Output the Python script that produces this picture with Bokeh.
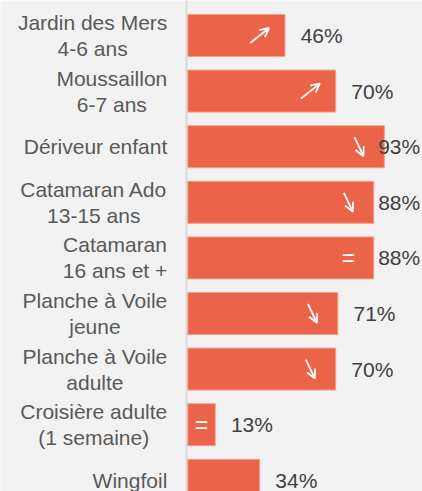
from bokeh.plotting import figure
from bokeh.models import Range1d, Span, ColumnDataSource, Arrow, OpenHead
from bokeh.core.properties import value
from bokeh.embed import file_html
from bokeh.resources import INLINE

# ---- data ----
categories = [
    "Jardin des Mers\n4-6 ans",
    "Moussaillon\n6-7 ans",
    "Dériveur enfant",
    "Catamaran Ado\n13-15 ans",
    "Catamaran\n16 ans et +",
    "Planche à Voile\njeune",
    "Planche à Voile\nadulte",
    "Croisière adulte\n(1 semaine)",
    "Wingfoil",
]
values = [46, 70, 93, 88, 88, 71, 70, 13, 34]
trends = ["up", "up", "down", "down", "eq", "down", "down", "eq", ""]

# ---- layout constants ----
W, H = 422, 491
AXIS_PX = 187.3        # x position of the bar baseline inside the figure
PX_X = 2.113           # pixels per percent
ROW_PX = 55.6          # pixels between bar centres
FIRST_ROW_PX = 35.0    # centre of first bar from the top
BAR_PX = 42.0
FONT = "Liberation Sans"
FS = "21px"
BAR_COLOR = "#EB6449"
BG = "#F2F2F2"

px_y = ROW_PX  # pixels per row unit

p = figure(width=W, height=H, output_backend="svg", toolbar_location=None,
           x_range=Range1d(-AXIS_PX / PX_X, (W - AXIS_PX) / PX_X),
           y_range=Range1d((H - FIRST_ROW_PX) / px_y, -FIRST_ROW_PX / px_y),
           min_border=0, min_border_left=0, min_border_right=0,
           min_border_top=0, min_border_bottom=0)
p.axis.visible = False
p.grid.visible = False
p.outline_line_color = None
p.background_fill_color = BG
p.border_fill_color = BG

idx = list(range(len(categories)))

# baseline
p.add_layout(Span(location=-1.3 / PX_X, dimension="height", line_color="#D9D9D9",
                  line_width=2, level="underlay"))

# bars
src = ColumnDataSource(dict(y=idx, v=values))
p.hbar(y="y", left=0, right="v", height=BAR_PX / ROW_PX, source=src,
       fill_color=BAR_COLOR, line_color="#F3A090", line_width=1)

# category labels
p.text(x=[-20.5 / PX_X] * len(idx), y=idx, text=categories,
       anchor="center_right", text_align="center", text_baseline="middle",
       text_font=value(FONT), text_font_size=FS, text_color="#595959",
       text_line_height=1.13)

# value labels
lab_x = [min(v + 7.4, 90.1) for v in values]
p.text(x=lab_x, y=idx, text=[f"{v}%" for v in values],
       text_align="left", text_baseline="middle",
       text_font=value(FONT), text_font_size=FS, text_color="#404040")

# trend markers
def cx(v):
    return max(v - 12.0, v / 2.0)

ups = [(cx(v), i) for i, (v, t) in enumerate(zip(values, trends)) if t == "up"]
downs = [(cx(v), i) for i, (v, t) in enumerate(zip(values, trends)) if t == "down"]
eqs = [(cx(v), i) for i, (v, t) in enumerate(zip(values, trends)) if t == "eq"]

hx_up, hy_up = 9.5 / PX_X, 7.5 / px_y
hx_dn, hy_dn = 4.5 / PX_X, 9.5 / px_y

arrow_src = ColumnDataSource(dict(
    xs=[x - hx_up for x, _ in ups] + [x - hx_dn for x, _ in downs],
    ys=[y + hy_up for _, y in ups] + [y - hy_dn for _, y in downs],
    xe=[x + hx_up for x, _ in ups] + [x + hx_dn for x, _ in downs],
    ye=[y - hy_up for _, y in ups] + [y + hy_dn for _, y in downs],
))
p.add_layout(Arrow(end=OpenHead(size=9, line_color="white", line_width=1.8),
                   x_start="xs", y_start="ys", x_end="xe", y_end="ye",
                   line_color="white", line_width=1.8, source=arrow_src))

p.text(x=[x for x, _ in eqs], y=[y for _, y in eqs], text=["="] * len(eqs),
       text_align="center", text_baseline="middle",
       text_font=value(FONT), text_font_size="23px",
       text_color="white")

open("out.html", "w").write(file_html(p, INLINE))
